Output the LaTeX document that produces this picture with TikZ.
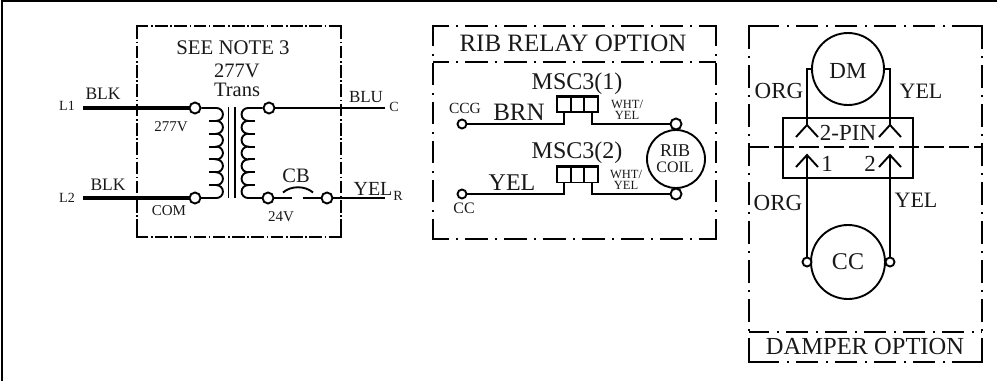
\documentclass[tikz,border=0pt]{standalone}
\usepackage{fontspec}
\setmainfont{Liberation Serif}
\newcommand{\fs}[1]{\fontsize{#1}{#1}\selectfont}
\newcommand{\corners}[6]{%
  \draw[solidbox] (#1+#5,#2) -- (#1,#2) -- (#1,#2+#6);
  \draw[solidbox] (#3-#5,#2) -- (#3,#2) -- (#3,#2+#6);
  \draw[solidbox] (#1+#5,#4) -- (#1,#4) -- (#1,#4-#6);
  \draw[solidbox] (#3-#5,#4) -- (#3,#4) -- (#3,#4-#6);}
\tikzset{
  wire/.style={line width=1.9pt,line cap=butt,line join=miter},
  thickwire/.style={line width=4pt},
  term/.style={circle,draw,fill=white,line width=1.9pt,minimum size=11pt,inner sep=0pt},
  smallterm/.style={circle,draw,fill=white,line width=1.9pt,minimum size=9pt,inner sep=0pt},
  device/.style={circle,draw,line width=1.9pt,inner sep=0pt},
  lbl/.style={inner sep=0pt,text=black!90},
  solidbox/.style={line width=2pt,line join=miter},
  shortdash/.style={line width=2pt,dash pattern=on 12.6pt off 2.7pt on 1.6pt off 2.4pt},
  longdash/.style={line width=2pt,dash pattern=on 22.5pt off 7.7pt on 1.5pt off 7.3pt},
  plaindash/.style={line width=2pt,dash pattern=on 20pt off 5pt},
  pin/.style={line width=1.9pt}
}
\begin{document}
\begin{tikzpicture}[x=1pt,y=-1pt]
\useasboundingbox (0,0) rectangle (997,381);
\coordinate (frameTL) at (2,1);
\coordinate (frameTR) at (997,1);
\coordinate (frameBL) at (2,381);
\draw[line width=2.6pt] (frameBL) -- (frameTL) -- (frameTR);

% ---- transformer box
\draw[shortdash,dash phase=1.4pt] (137,26) -- (341,26);
\draw[shortdash,dash phase=1.4pt] (137,237) -- (341,237);
\draw[shortdash,dash phase=18.9pt] (137,26) -- (137,237);
\draw[shortdash,dash phase=18.9pt] (341,26) -- (341,237);
\corners{137}{26}{341}{237}{10}{13}
\node[lbl] at (233,48) {\fs{20.8}SEE NOTE 3};
\node[lbl] at (237,71) {\fs{20.5}277V};
\node[lbl] at (237,90) {\fs{20.5}Trans};

\node[term] (pa) at (195,108) {};
\node[term] (pb) at (195,198) {};
\node[term] (sa) at (269,108) {};
\node[term] (sb) at (268,198) {};
\node[term] (cbr) at (327,198) {};
\coordinate (l1) at (83,108);
\coordinate (l2) at (83,198);
\coordinate (c) at (385,108);
\coordinate (r) at (385,198);
\coordinate (cbgl) at (292,198);
\coordinate (cbgr) at (303,198);
\draw[thickwire] (l1) -- (pa);
\draw[thickwire] (l2) -- (pb);
\draw[wire] (sa) -- (c);
\draw[wire] (cbr) -- (r);
\draw[wire] (sb) -- (cbgl);
\draw[wire] (cbgr) -- (cbr);
\draw[wire] (283,192.5) .. controls (291,185.5) and (305,185.5) .. (313,192.5);
% core
\draw[wire] (228.5,107) -- (228.5,198);
\draw[wire] (235,107) -- (235,198);
% primary coil
\draw[wire] (pa) -- (216.5,108)
  \foreach \i in {1,...,7} { arc[start angle=90,end angle=-90,radius=6.43pt] };
\draw[wire] (216.5,198) -- (pb);
\foreach \i in {1,...,6} \draw[wire] (209,108+\i*12.86) -- (217,108+\i*12.86);
% secondary coil
\draw[wire] (sa) -- (248,108)
  \foreach \i in {1,...,7} { arc[start angle=90,end angle=270,radius=6.43pt] };
\draw[wire] (248,198) -- (sb);
\foreach \i in {1,...,6} \draw[wire] (248,108+\i*12.86) -- (255,108+\i*12.86);

\node[lbl] at (103,94) {\fs{17.5}BLK};
\node[lbl] at (108,185) {\fs{17.5}BLK};
\node[lbl] at (67,106) {\fs{14}L1};
\node[lbl] at (67,198) {\fs{14}L2};
\node[lbl] at (171,127) {\fs{15}277V};
\node[lbl] at (169,211) {\fs{15}COM};
\node[lbl] at (281,217) {\fs{15}24V};
\node[lbl] at (296,176) {\fs{20.5}CB};
\node[lbl] at (366,97) {\fs{17}BLU};
\node[lbl] at (373,189) {\fs{20}YEL};
\node[lbl] at (394,107) {\fs{14}C};
\node[lbl] at (398,196) {\fs{14}R};

% ---- RIB relay option
\draw[longdash,dash phase=6.9pt] (433,26) -- (716,26);
\draw[longdash,dash phase=6.9pt] (433,62) -- (716,62);
\draw[longdash,dash phase=6.9pt] (433,239) -- (716,239);
\draw[longdash,dash phase=2.2pt] (433,26) -- (433,239);
\draw[longdash,dash phase=2.2pt] (716,26) -- (716,239);
\corners{433}{26}{716}{239}{10}{15}
\node[lbl] at (573,43) {\fs{25}RIB RELAY OPTION};
\node[lbl] at (577,84) {\fs{24}MSC3(1)};
\node[lbl] at (577,153) {\fs{24}MSC3(2)};

\node[draw,line width=1.9pt,minimum width=41pt,minimum height=15pt,inner sep=0pt] (ra) at (577.5,104.5) {};
\node[draw,line width=1.9pt,minimum width=41pt,minimum height=15pt,inner sep=0pt] (rb) at (577.5,175) {};
\draw[wire] (571,97) -- (571,112) (584,97) -- (584,112);
\draw[wire] (571,168) -- (571,182) (584,168) -- (584,182);
\draw[line width=3pt] (ra.north west) -- (ra.north east);
\draw[line width=3pt] (rb.north west) -- (rb.north east);

\node[device,minimum size=58pt] (coil) at (676,159) {};
\node[term] (ca) at (676,124) {};
\node[term] (cb) at (676,194) {};
\node[smallterm] (ccg) at (462,124) {};
\node[smallterm] (cc) at (462,194) {};
\coordinate (rain) at (564,112);
\coordinate (raout) at (592,112);
\coordinate (rbin) at (564,182);
\coordinate (rbout) at (592,182);
\draw[wire] (ccg) -- (564,124) -- (rain);
\draw[wire] (raout) -- (592,124) -- (ca);
\draw[wire] (cc) -- (564,194) -- (rbin);
\draw[wire] (rbout) -- (592,194) -- (cb);

\node[lbl] at (465,108) {\fs{15.5}CCG};
\node[lbl] at (519,112) {\fs{25}BRN};
\node[lbl] at (512,183) {\fs{24}YEL};
\node[lbl] at (464,208) {\fs{16}CC};
\node[lbl] at (627,104) {\fs{12.5}WHT/};
\node[lbl] at (627,115) {\fs{12.5}YEL};
\node[lbl] at (626,174) {\fs{12.5}WHT/};
\node[lbl] at (626,185) {\fs{12.5}YEL};
\node[lbl] at (675,151) {\fs{18}RIB};
\node[lbl] at (675,167) {\fs{16}COIL};

% ---- damper option
\draw[longdash,dash phase=31.2pt] (749,26) -- (982,26);
\draw[longdash,dash phase=31.2pt] (749,362) -- (982,362);
\draw[plaindash] (749,147) -- (982,147);
\draw[longdash,dash phase=2.2pt] (749,332) -- (982,332);
\draw[longdash] (749,26) -- (749,362);
\draw[longdash] (982,26) -- (982,362);
\corners{749}{26}{982}{362}{30}{15}
\node[draw,line width=1.9pt,minimum width=130pt,minimum height=60pt,inner sep=0pt] (conn) at (848,148) {};
\node[device,minimum size=72pt] (dm) at (848,69) {};
\node[device,minimum size=74pt] (ccm) at (848,262) {};
\node[smallterm] (ta) at (807,262) {};
\node[smallterm] (tb) at (890,262) {};
\coordinate (pina) at (807,125);
\coordinate (pinb) at (890,125);
\coordinate (pinc) at (807,155);
\coordinate (pind) at (890,155);
\draw[wire] (dm.west) -- (807,69) -- (pina);
\draw[wire] (dm.east) -- (890,69) -- (pinb);
\draw[wire] (ta) -- (pinc);
\draw[wire] (tb) -- (pind);
\foreach \p in {pina,pinb,pinc,pind}
  \draw[pin] ([shift={(-11,12)}]\p) -- (\p) -- ([shift={(11,12)}]\p);
\node[lbl] at (848,71) {\fs{23}DM};
\node[lbl] at (848,262) {\fs{24}CC};
\node[lbl] at (848,133) {\fs{23}2-PIN};
\node[lbl] at (827,164) {\fs{23}1};
\node[lbl] at (870,164) {\fs{23}2};
\node[lbl] at (779,91) {\fs{23}ORG};
\node[lbl] at (921,91) {\fs{22}YEL};
\node[lbl] at (778,203) {\fs{23}ORG};
\node[lbl] at (916,200) {\fs{22}YEL};
\node[lbl] at (865,347) {\fs{24.5}DAMPER OPTION};
\end{tikzpicture}
\end{document}
